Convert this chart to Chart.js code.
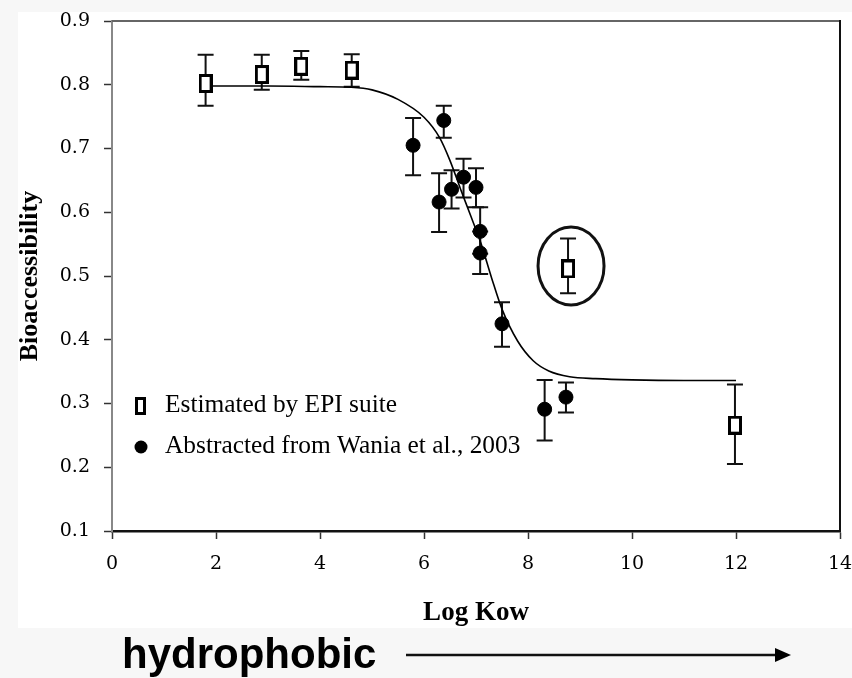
<!DOCTYPE html>
<html>
<head>
<meta charset="utf-8">
<script src="https://cdn.jsdelivr.net/npm/chart.js@4.4.1/dist/chart.umd.min.js"></script>
<style>
  body { margin: 0; background: #f7f7f7; }
  canvas { display: block; }
</style>
</head>
<body>
<canvas id="chart" width="852" height="678"></canvas>
<script>
// Estimated by EPI suite (open squares)
const epiX = [1.8, 2.88, 3.64, 4.61, 8.77, 11.98];
const epiY = [0.802, 0.816, 0.829, 0.823, 0.511, 0.266];
const epiLow = [0.767, 0.792, 0.808, 0.797, 0.473, 0.205];
const epiHigh = [0.847, 0.847, 0.853, 0.848, 0.559, 0.330];

// Abstracted from Wania et al., 2003 (filled circles)
const waniaX = [5.79, 6.38, 6.29, 6.53, 6.76, 7.0, 7.08, 7.08, 7.5, 8.32, 8.73];
const waniaY = [0.705, 0.744, 0.616, 0.636, 0.655, 0.639, 0.570, 0.536, 0.425, 0.291, 0.310];
const waniaLow = [0.658, 0.717, 0.569, 0.606, 0.623, 0.608, 0.535, 0.503, 0.389, 0.242, 0.286];
const waniaHigh = [0.748, 0.767, 0.661, 0.666, 0.684, 0.669, 0.608, 0.570, 0.459, 0.337, 0.333];

// fitted curve
const fitX = [1.8, 3, 4, 4.6, 5, 5.5, 6, 6.3, 6.5, 6.7, 6.9, 7.1, 7.3, 7.5, 7.8, 8.1, 8.4, 8.8, 9.3, 10, 11, 12];
const fitY = [0.798, 0.798, 0.797, 0.796, 0.792, 0.777, 0.749, 0.717, 0.681, 0.637, 0.594, 0.550, 0.497, 0.448, 0.398, 0.367, 0.351, 0.342, 0.339, 0.337, 0.336, 0.336];

const circledIndex = 4; // the EPI point with the ellipse round it

const xTicks = [0, 2, 4, 6, 8, 10, 12, 14];
const yTicks = [0.1, 0.2, 0.3, 0.4, 0.5, 0.6, 0.7, 0.8, 0.9];

function toPoints(xs, ys) {
    return xs.map((x, i) => ({ x: x, y: ys[i] }));
}

// open rectangle marker
function boxMarker(w, h) {
    const c = document.createElement('canvas');
    c.width = w;
    c.height = h;
    const g = c.getContext('2d');
    g.fillStyle = '#fff';
    g.fillRect(0, 0, w, h);
    g.strokeStyle = '#000';
    g.lineWidth = 3;
    g.strokeRect(1.5, 1.5, w - 3, h - 3);
    return c;
}
const squareImg = boxMarker(14, 19);

const pageBackground = {
    id: 'pageBackground',
    beforeDraw(chart) {
        const ctx = chart.ctx;
        ctx.save();
        ctx.fillStyle = '#f7f7f7';
        ctx.fillRect(0, 0, chart.width, chart.height);
        ctx.fillStyle = '#ffffff';
        ctx.fillRect(18, 12, chart.width - 18, 616);
        ctx.restore();
    }
};

const errorBars = {
    id: 'errorBars',
    beforeDatasetsDraw(chart) {
        const ctx = chart.ctx;
        const xs = chart.scales.x, ys = chart.scales.y;
        const sets = [[epiX, epiLow, epiHigh], [waniaX, waniaLow, waniaHigh]];
        ctx.save();
        ctx.strokeStyle = '#111';
        ctx.lineWidth = 2;
        sets.forEach(([xv, lo, hi]) => {
            xv.forEach((x, i) => {
                const px = xs.getPixelForValue(x);
                const y1 = ys.getPixelForValue(lo[i]);
                const y2 = ys.getPixelForValue(hi[i]);
                ctx.beginPath();
                ctx.moveTo(px, y1); ctx.lineTo(px, y2);
                ctx.moveTo(px - 8, y1); ctx.lineTo(px + 8, y1);
                ctx.moveTo(px - 8, y2); ctx.lineTo(px + 8, y2);
                ctx.stroke();
            });
        });
        ctx.restore();
    },
    afterDatasetsDraw(chart) {
        const ctx = chart.ctx;
        const a = chart.chartArea;
        const xs = chart.scales.x, ys = chart.scales.y;
        ctx.save();
        // frame top and right
        ctx.lineWidth = 2;
        ctx.strokeStyle = '#666';
        ctx.beginPath();
        ctx.moveTo(a.left, a.top); ctx.lineTo(a.right, a.top);
        ctx.stroke();
        ctx.strokeStyle = '#111';
        ctx.beginPath();
        ctx.moveTo(a.right, a.top - 1); ctx.lineTo(a.right, a.bottom);
        ctx.stroke();

        // ellipse round the odd point
        ctx.lineWidth = 3;
        ctx.beginPath();
        ctx.ellipse(xs.getPixelForValue(epiX[circledIndex]) + 3, ys.getPixelForValue(epiY[circledIndex]) - 3, 33, 39, 0, 0, Math.PI * 2);
        ctx.stroke();

        // legend inside the plot
        const labels = chart.data.datasets;
        ctx.fillStyle = '#000';
        ctx.font = '25.4px "Liberation Serif"';
        ctx.textBaseline = 'alphabetic';
        ctx.drawImage(boxMarker(11, 18), 135, 397);
        ctx.fillText(labels[0].label, 165, 412);
        ctx.beginPath();
        ctx.arc(141, 447, 6.5, 0, Math.PI * 2);
        ctx.fill();
        ctx.fillText(labels[1].label, 165, 453);

        // hydrophobic arrow under the chart
        ctx.font = 'bold 42px "Liberation Sans"';
        ctx.fillText('hydrophobic', 122, 668);
        ctx.lineWidth = 2.5;
        ctx.beginPath();
        ctx.moveTo(406, 655); ctx.lineTo(778, 655);
        ctx.stroke();
        ctx.beginPath();
        ctx.moveTo(791, 655); ctx.lineTo(775, 648); ctx.lineTo(775, 662);
        ctx.closePath();
        ctx.fill();
        ctx.restore();
    }
};

Chart.defaults.font.family = '"DejaVu Serif"';
Chart.defaults.color = '#000';

const config = {
    type: 'scatter',
    data: {
        datasets: [
            {
                label: 'Estimated by EPI suite',
                data: toPoints(epiX, epiY),
                pointStyle: squareImg,
                order: 1
            },
            {
                label: 'Abstracted from Wania et al., 2003',
                data: toPoints(waniaX, waniaY),
                pointStyle: 'circle',
                pointRadius: 7,
                backgroundColor: '#000',
                borderColor: '#000',
                order: 2
            },
            {
                label: 'fit',
                data: toPoints(fitX, fitY),
                showLine: true,
                pointRadius: 0,
                borderColor: '#000',
                borderWidth: 1.6,
                cubicInterpolationMode: 'monotone',
                order: 3
            }
        ]
    },
    options: {
        responsive: false,
        animation: false,
        layout: {
            padding: { left: 0, right: 12, top: 21, bottom: 47 }
        },
        plugins: {
            legend: { display: false },
            tooltip: { enabled: false }
        },
        scales: {
            x: {
                type: 'linear',
                min: 0,
                max: 14,
                afterFit: s => { s.height = 100; s.paddingLeft = 0; s.paddingRight = 0; },
                afterBuildTicks: s => { s.ticks = xTicks.map(v => ({ value: v })); },
                ticks: {
                    padding: 14,
                    font: { size: 19 }
                },
                grid: {
                    drawOnChartArea: false,
                    drawTicks: true,
                    tickLength: 8,
                    color: '#333',
                    tickWidth: 1.5
                },
                border: { color: '#111', width: 2.5 },
                title: {
                    display: true,
                    text: 'Log Kow',
                    font: { family: '"Liberation Serif"', size: 27, weight: 'bold' },
                    padding: { top: 0, bottom: 2 }
                }
            },
            y: {
                min: 0.1,
                max: 0.9,
                afterFit: s => { s.width = 112; s.paddingTop = 0; s.paddingBottom = 0; },
                afterBuildTicks: s => { s.ticks = yTicks.map(v => ({ value: v })); },
                ticks: {
                    padding: 14,
                    font: { size: 19 },
                    callback: v => v.toFixed(1)
                },
                grid: {
                    drawOnChartArea: false,
                    drawTicks: true,
                    tickLength: 8,
                    color: '#333',
                    tickWidth: 1.5
                },
                border: { color: '#888', width: 2 },
                title: {
                    display: true,
                    text: 'Bioaccessibility',
                    font: { family: '"Liberation Serif"', size: 26, weight: 'bold' },
                    padding: { top: 15, bottom: 0 }
                }
            }
        }
    },
    plugins: [pageBackground, errorBars]
};

var chart = new Chart(document.getElementById('chart'), config);
</script>
</body>
</html>
